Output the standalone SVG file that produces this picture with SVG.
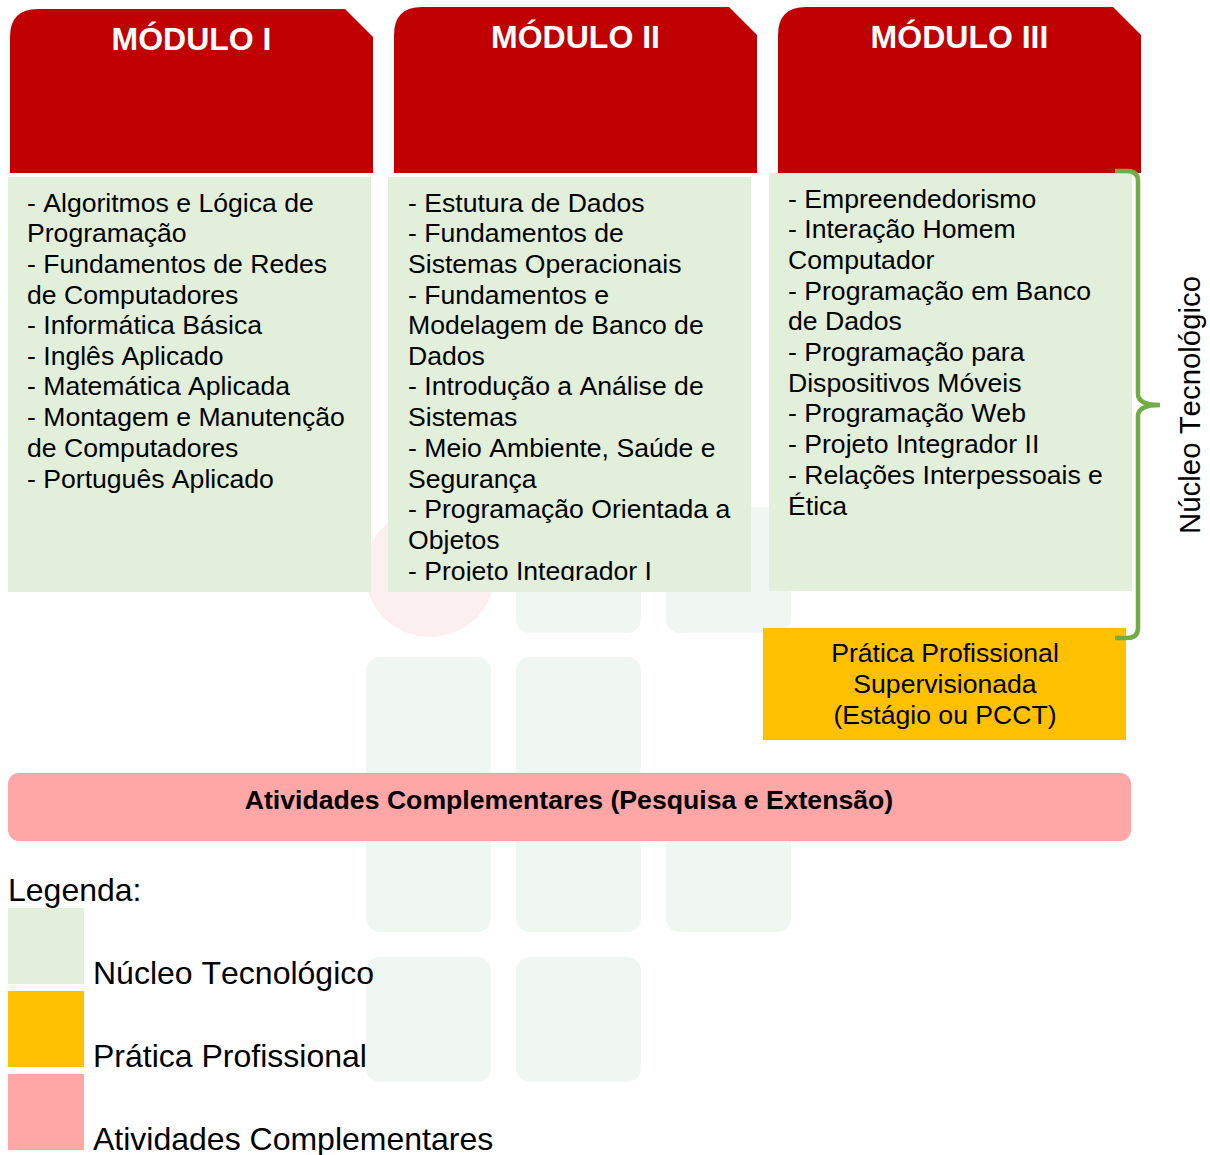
<svg xmlns="http://www.w3.org/2000/svg" width="1210" height="1155" viewBox="0 0 1210 1155">
<style>
text{font-family:"Liberation Sans",Arial,sans-serif;fill:#000;font-kerning:none}
.b{font-size:26.6px}
.l{font-size:32px}
.h{font-size:32px;font-weight:700;fill:#fff;text-anchor:middle}
.c{text-anchor:middle}
.w{fill:#f0f7f2}
.mod{fill:#c00000}
.g{fill:#e2efda}
.o{fill:#ffc000}
.p{fill:#ffa7a7}
</style>
<defs><clipPath id="cp"><rect x="388" y="178" width="363" height="403"/></clipPath></defs>
<g id="watermark">
<circle cx="430" cy="572" r="65" fill="#fcefef"/>
<rect class="w" x="516" y="507" width="125" height="126" rx="14"/>
<rect class="w" x="666" y="507" width="125" height="126" rx="14"/>
<rect class="w" x="366" y="657" width="125" height="125" rx="14"/>
<rect class="w" x="516" y="657" width="125" height="125" rx="14"/>
<rect class="w" x="366" y="807" width="125" height="125" rx="14"/>
<rect class="w" x="516" y="807" width="125" height="125" rx="14"/>
<rect class="w" x="666" y="807" width="125" height="125" rx="14"/>
<rect class="w" x="366" y="957" width="125" height="125" rx="14"/>
<rect class="w" x="516" y="957" width="125" height="125" rx="14"/>
</g>
<g id="modulo1">
<path class="mod" d="M10 173V37Q10 9 38 9H345L373 37V173Z"/>
<text class="h" x="191.500" y="50">MÓDULO I</text>
<rect class="g" x="8" y="177" width="363" height="415"/>
<text class="b"><tspan x="27" y="212">- Algoritmos e Lógica de</tspan><tspan x="27" y="242">Programação</tspan><tspan x="27" y="273">- Fundamentos de Redes</tspan><tspan x="27" y="304">de Computadores</tspan><tspan x="27" y="334">- Informática Básica</tspan><tspan x="27" y="365">- Inglês Aplicado</tspan><tspan x="27" y="395">- Matemática Aplicada</tspan><tspan x="27" y="426">- Montagem e Manutenção</tspan><tspan x="27" y="457">de Computadores</tspan><tspan x="27" y="488">- Português Aplicado</tspan></text>
</g>
<g id="modulo2">
<path class="mod" d="M394 173V35Q394 7 422 7H729L757 35V173Z"/>
<text class="h" x="575.500" y="48">MÓDULO II</text>
<rect class="g" x="388" y="177" width="363" height="415"/>
<text class="b" clip-path="url(#cp)"><tspan x="408" y="212">- Estutura de Dados</tspan><tspan x="408" y="242">- Fundamentos de</tspan><tspan x="408" y="273">Sistemas Operacionais</tspan><tspan x="408" y="304">- Fundamentos e</tspan><tspan x="408" y="334">Modelagem de Banco de</tspan><tspan x="408" y="365">Dados</tspan><tspan x="408" y="395">- Introdução a Análise de</tspan><tspan x="408" y="426">Sistemas</tspan><tspan x="408" y="457">- Meio Ambiente, Saúde e</tspan><tspan x="408" y="488">Segurança</tspan><tspan x="408" y="518">- Programação Orientada a</tspan><tspan x="408" y="549">Objetos</tspan><tspan x="408" y="580">- Projeto Integrador I</tspan></text>
</g>
<g id="modulo3">
<path class="mod" d="M778 173V35Q778 7 806 7H1113L1141 35V173Z"/>
<text class="h" x="959.500" y="48">MÓDULO III</text>
<rect class="g" x="769" y="173" width="363" height="418"/>
<text class="b"><tspan x="788" y="208">- Empreendedorismo</tspan><tspan x="788" y="238">- Interação Homem</tspan><tspan x="788" y="269">Computador</tspan><tspan x="788" y="300">- Programação em Banco</tspan><tspan x="788" y="330">de Dados</tspan><tspan x="788" y="361">- Programação para</tspan><tspan x="788" y="392">Dispositivos Móveis</tspan><tspan x="788" y="422">- Programação Web</tspan><tspan x="788" y="453">- Projeto Integrador II</tspan><tspan x="788" y="484">- Relações Interpessoais e</tspan><tspan x="788" y="515">Ética</tspan></text>
</g>
<g id="pratica">
<rect class="o" x="763" y="628" width="363" height="112"/>
<text class="b c"><tspan x="945" y="662">Prática Profissional</tspan><tspan x="945" y="693">Supervisionada</tspan><tspan x="945" y="724">(Estágio ou PCCT)</tspan></text>
</g>
<g id="atividades">
<rect class="p" x="8" y="773" width="1123" height="68" rx="11"/>
<text class="c" x="569" y="809" font-size="26.65" font-weight="700">Atividades Complementares (Pesquisa e Extensão)</text>
</g>
<g id="connectors">
<path d="M1115 171H1127Q1138 171 1138 181V394Q1138 405 1160 405Q1138 405 1138 416V628Q1138 638 1127 638H1115" fill="none" stroke="#70ad47" stroke-width="4.500"/>
</g>
<g id="nucleo-label">
<text transform="translate(1200 534) rotate(-90)" style="font-size:29.4px">Núcleo Tecnológico</text>
</g>
<g id="legenda">
<text class="l" x="8" y="901">Legenda:</text>
<rect class="g" x="8" y="908" width="76" height="76"/>
<text class="l" x="93" y="984">Núcleo Tecnológico</text>
<rect class="o" x="8" y="991" width="76" height="76"/>
<text class="l" x="93" y="1067">Prática Profissional</text>
<rect class="p" x="8" y="1074" width="76" height="76"/>
<text class="l" x="93" y="1150">Atividades Complementares</text>
</g>
</svg>
